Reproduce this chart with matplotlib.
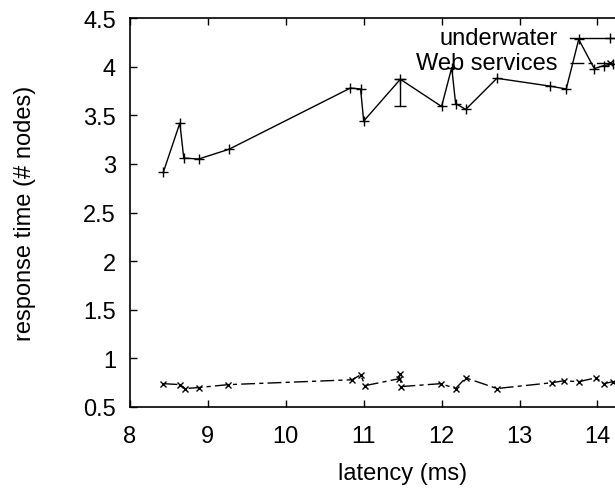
import numpy as np
import matplotlib.pyplot as plt
from matplotlib.lines import Line2D

plt.rcParams['font.family'] = ['Liberation Sans', 'DejaVu Sans']

# underwater series
lat_uw = [8.43, 8.64, 8.69, 8.88, 9.27, 10.83, 10.96, 11.0, 11.47, 12.0,
          12.13, 12.18, 12.31, 12.71, 13.39, 13.6, 13.76, 13.96, 14.08, 14.2]
resp_uw = [2.92, 3.42, 3.06, 3.05, 3.15, 3.78, 3.77, 3.44, 3.87, 3.59,
           3.99, 3.62, 3.56, 3.88, 3.80, 3.77, 4.28, 3.98, 4.01, 4.03]
# error bar on the 11.47 point
err_x = [11.47]
err_y = [3.87]
err_low = [0.27]

# Web services series
lat_ws = [8.43, 8.64, 8.71, 8.88, 9.26, 10.85, 10.96, 11.02, 11.45, 11.47, 11.48,
          11.99, 12.18, 12.31, 12.71, 13.42, 13.57, 13.76, 13.98, 14.08, 14.2]
resp_ws = [0.74, 0.73, 0.69, 0.70, 0.73, 0.78, 0.83, 0.72, 0.79, 0.84, 0.71,
           0.74, 0.69, 0.80, 0.69, 0.75, 0.77, 0.76, 0.80, 0.74, 0.76]

xticks = [8, 9, 10, 11, 12, 13, 14, 15]
yticks = [0.5, 1, 1.5, 2, 2.5, 3, 3.5, 4, 4.5]

fig = plt.figure(figsize=(6.15, 4.89), dpi=100)
W, H = 615.0, 489.0
# axes run past the right edge of the picture (as in the cropped original)
ax = fig.add_axes([130/W, 81/H, 545.3/W, 389/H])

dash = (0, (10, 3, 3, 3))
ax.plot(lat_uw, resp_uw, color='black', lw=1, marker='+', ms=7, mew=1)
ax.errorbar(err_x, err_y, yerr=[err_low, [0]], fmt='none', ecolor='black',
            elinewidth=1, capsize=4, capthick=1)
ax.plot(lat_ws, resp_ws, color='black', lw=1, ls=dash, marker='x', ms=5, mew=1)

ax.set_xlim(8, 15)
ax.set_ylim(0.5, 4.5)
ax.set_xticks(xticks)
ax.set_yticks(yticks)
ax.set_yticklabels(['0.5', '1', '1.5', '2', '2.5', '3', '3.5', '4', '4.5'])
ax.tick_params(direction='in', length=5, width=1, top=True, right=True,
               labelsize=17, colors='black')
ax.tick_params(axis='y', pad=10)
ax.tick_params(axis='x', pad=13)
for s in ax.spines.values():
    s.set_linewidth(1.2)

ax.set_xlabel('latency (ms)', fontsize=17, labelpad=11)
ax.set_ylabel('response time (# nodes)', fontsize=17, labelpad=34)

# key, gnuplot style: text right-aligned, sample to its right
keys = [('underwater', 39, '-', '+', 7), ('Web services', 64, dash, 'x', 5)]
for label, ypix, ls, mk, ms in keys:
    yf = 1 - ypix / H
    fig.text(558/W, yf, label, ha='right', va='center', fontsize=17)
    fig.add_artist(Line2D([570/W, 610/W, 650/W], [yf, yf, yf],
                          transform=fig.transFigure, color='black', lw=1,
                          ls=ls, marker=mk, ms=ms, markevery=[1]))

fig.savefig('out.png', dpi=100)
